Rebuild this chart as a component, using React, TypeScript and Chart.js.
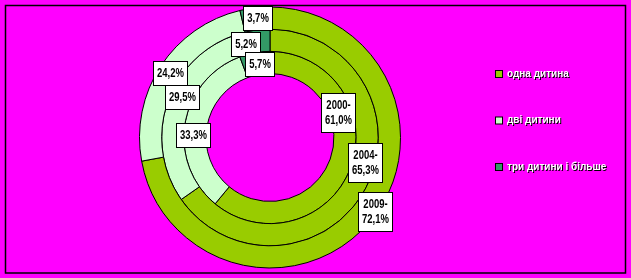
import React, { useEffect, useRef } from "react";
import { Chart, registerables } from "chart.js";

Chart.register(...registerables);

const categories = ["одна дитина", "дві дитини", "три дитини і більше"];
const years = ["2009", "2004", "2000"];
const values2009 = [72.1, 24.2, 3.7];
const values2004 = [65.3, 29.5, 5.2];
const values2000 = [61.0, 33.3, 5.7];
const colors = ["#99CC00", "#CCFFCC", "#339966"];

const fmt = (v: number) => v.toFixed(1).replace(".", ",") + "%";

const bgPlugin = {
  id: "bgFrame",
  beforeDraw(chart: any) {
    const ctx = chart.ctx;
    ctx.save();
    ctx.fillStyle = "#FF00FF";
    ctx.fillRect(0, 0, chart.width, chart.height);
    ctx.strokeStyle = "#000000";
    ctx.lineWidth = 1.5;
    ctx.strokeRect(5.5, 5.5, 620, 267.5);
    ctx.restore();
  },
};

const SX = 0.76;

const labelPlugin = {
  id: "boxLabels",
  afterDatasetsDraw(chart: any, _args: any, opts: any) {
    const ctx = chart.ctx;
    ctx.save();
    ctx.font = "bold 12.5px 'Liberation Sans', Arial, sans-serif";
    ctx.textAlign = "center";
    ctx.textBaseline = "middle";
    chart.data.datasets.forEach((ds: any, i: number) => {
      const meta = chart.getDatasetMeta(i);
      meta.data.forEach((arc: any, j: number) => {
        const p = arc.getProps(["x", "y", "startAngle", "endAngle", "innerRadius", "outerRadius"], true);
        const mid = (p.startAngle + p.endAngle) / 2;
        const r = (p.innerRadius + p.outerRadius) / 2;
        const off = opts.offsets[i][j];
        const cx = p.x + Math.cos(mid) * r + off[0];
        const cy = p.y + Math.sin(mid) * r + off[1];
        const v = ds.data[j];
        const lines = j === 0 ? [ds.label + "-", fmt(v)] : [fmt(v)];
        const w = Math.round(Math.max(...lines.map((l: string) => ctx.measureText(l).width)) * SX) + 7;
        const lh = 15;
        const h = lines.length * lh + 9;
        const x0 = Math.round(cx - w / 2) + 0.5;
        const y0 = Math.round(cy - h / 2) + 0.5;
        ctx.fillStyle = "#FFFFFF";
        ctx.fillRect(x0, y0, w, h);
        ctx.strokeStyle = "#000000";
        ctx.lineWidth = 1;
        ctx.strokeRect(x0, y0, w, h);
        ctx.fillStyle = "#000000";
        lines.forEach((l: string, k: number) => {
          ctx.save();
          ctx.translate(x0 + w / 2, y0 + 4.5 + lh * k + lh / 2 + 0.5);
          ctx.scale(SX, 1);
          ctx.fillText(l, 0, 0);
          ctx.restore();
        });
      });
    });
    ctx.restore();
  },
};

const legendPlugin = {
  id: "customLegend",
  afterDraw(chart: any, _args: any, opts: any) {
    const ctx = chart.ctx;
    ctx.save();
    ctx.font = "bold 10px 'Liberation Sans', Arial, sans-serif";
    ctx.textAlign = "left";
    ctx.textBaseline = "middle";
    categories.forEach((c, i) => {
      const y = opts.top + i * opts.gap;
      ctx.fillStyle = colors[i];
      ctx.fillRect(opts.x + 0.5, y - 3.5, 7, 7);
      ctx.strokeStyle = "#000";
      ctx.lineWidth = 1;
      ctx.strokeRect(opts.x + 0.5, y - 3.5, 7, 7);
      ctx.fillStyle = "#000000";
      ctx.fillText(c, opts.x + 13, y + 1);
      ctx.fillStyle = "#FFFFFF";
      ctx.fillText(c, opts.x + 12, y);
    });
    ctx.restore();
  },
};

export default function App() {
  const ref = useRef<HTMLCanvasElement>(null);
  useEffect(() => {
    document.body.style.margin = "0";
    const chart = new Chart(ref.current as HTMLCanvasElement, {
      type: "doughnut",
      data: {
        labels: categories,
        datasets: [
          { label: years[0], data: values2009, backgroundColor: colors, borderColor: "#000", borderWidth: 1 },
          { label: years[1], data: values2004, backgroundColor: colors, borderColor: "#000", borderWidth: 1 },
          { label: years[2], data: values2000, backgroundColor: colors, borderColor: "#000", borderWidth: 1 },
        ],
      },
      options: {
        animation: false,
        responsive: false,
        cutout: "49%",
        layout: { padding: { left: 139, right: 230, top: 6, bottom: 9 } },
        plugins: {
          legend: { display: false },
          tooltip: { enabled: false },
          boxLabels: {
            offsets: [
              [[13, -2], [0, 1], [1.5, -1]],
              [[8.5, -20], [4, -10], [-9, 2]],
              [[-2.5, -50], [-3.5, 9.5], [2.5, 0]],
            ],
          },
          customLegend: { x: 495, top: 74, gap: 46.5 },
        } as any,
      },
      plugins: [bgPlugin, labelPlugin, legendPlugin],
    });
    return () => chart.destroy();
  }, []);
  return (
    <div style={{ width: 631, height: 278 }}>
      <canvas ref={ref} width={631} height={278} />
    </div>
  );
}
